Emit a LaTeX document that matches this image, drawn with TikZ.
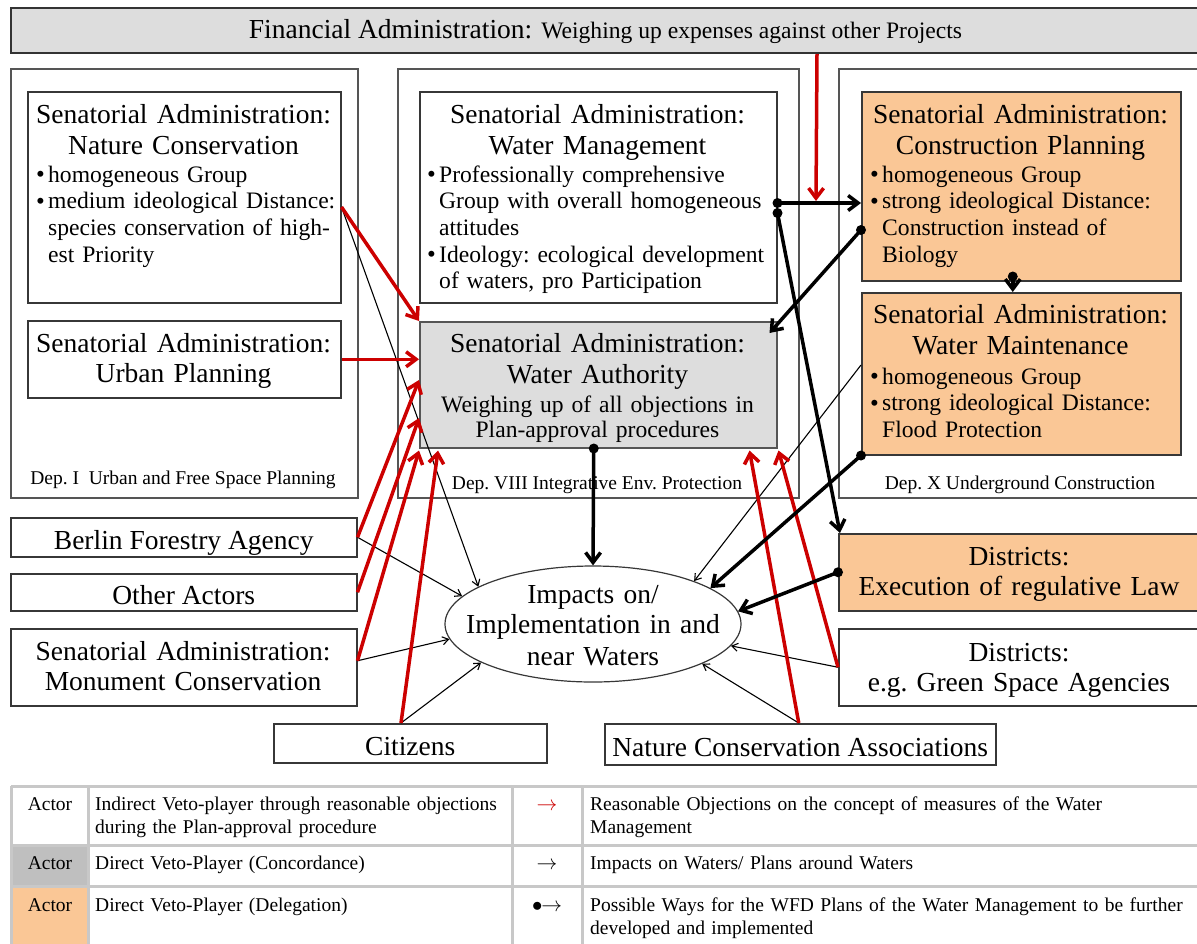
\documentclass[tikz,border=0pt]{standalone}
\usepackage{fontspec}
\setmainfont{Liberation Serif}
\usetikzlibrary{arrows.meta,shapes.geometric}

\definecolor{peach}{RGB}{250,199,150}
\definecolor{paleg}{RGB}{221,221,221}
\definecolor{legg}{RGB}{191,191,191}
\definecolor{legline}{RGB}{200,200,200}
\definecolor{objred}{RGB}{204,0,0}
\definecolor{edge}{RGB}{55,55,55}
\definecolor{depedge}{RGB}{85,85,85}

\frenchspacing
\newcommand{\bigf}{\fontsize{27.5}{31.5}\selectfont}
\newcommand{\boxf}{\fontsize{27.5}{30.5}\selectfont}
\newcommand{\midf}{\fontsize{23.6}{26.7}\selectfont}
\newcommand{\subf}{\fontsize{23.6}{25}\selectfont}
\newcommand{\smlf}{\fontsize{19.5}{23.5}\selectfont}
% bullet list: text indented by \leftskip, bullet hung into the indent
\newcommand{\bulletmark}{\raisebox{-0.5pt}{\fontsize{25}{25}\selectfont\textbullet}}
\newcommand{\bitem}[1]{\noindent\llap{\makebox[12pt][l]{\bulletmark}}#1\par}

\begin{document}
\begin{tikzpicture}[x=1pt,y=-1pt,
  box/.style={draw=edge, line width=1.5pt, inner sep=0pt, anchor=north west},
  depbox/.style={draw=depedge, line width=1.5pt, inner sep=0pt, anchor=north west},
  onel/.style={box, font=\bigf, text height=28pt, text depth=4pt},
  ttl/.style={anchor=base, inner sep=0pt, text width=340pt, align=center, font=\bigf},
  bxt/.style={ttl, font=\boxf},
  bul/.style={anchor=base west, inner sep=0pt, text width=345pt, align=left, font=\midf},
  deplab/.style={anchor=base, inner sep=0pt, font=\smlf},
  legtxt/.style={anchor=base west, inner sep=0pt, text width=600pt, align=left, font=\smlf},
  legmid/.style={anchor=base, inner sep=0pt, font=\smlf},
  objection/.style={draw=objred, line width=3.5pt, -{Straight Barb[length=10pt,width=15pt]}},
  impact/.style={draw=black, line width=1.1pt, -{Straight Barb[length=6pt,width=8pt]}},
  way/.style={draw=black, line width=3.5pt, -{Straight Barb[length=10pt,width=15pt]}},
  waydot/.style={fill=black}
]
\useasboundingbox (0,0) rectangle (1197,943);
\clip (0,0) rectangle (1197,943);

% ---------- financial administration bar ----------
\node[box, fill=paleg, draw=black!80, line width=2pt, minimum width=1190pt, minimum height=45pt] (fin) at (10,7) {};
\node[anchor=base, inner sep=0pt] (finT) at (605.5,38)
  {\bigf Financial Administration:\hspace{9pt}{\midf Weighing up expenses against other Projects}};

% ---------- departments ----------
\node[depbox, minimum width=347pt, minimum height=429pt] (dep1) at (10,68) {};
\node[depbox, minimum width=401pt, minimum height=429pt] (dep8) at (397,68) {};
\node[depbox, minimum width=362pt, minimum height=429pt] (dep10) at (838,68) {};
\node[deplab] (dep1T) at (183,484) {Dep.~I~~Urban and Free Space Planning};
\node[deplab] (dep8T) at (597,489) {Dep. VIII Integrative Env. Protection};
\node[deplab] (dep10T) at (1020,489) {Dep. X Underground Construction};

% ---------- Dep. I ----------
\node[box, minimum width=313pt, minimum height=211pt] (nat) at (27,91) {};
\node[ttl] (natT) at (183.5,123) {Senatorial Administration:\\Nature Conservation};
\node[bul] (natB) at (36,182) {\leftskip=12pt\relax
  \bitem{homogeneous Group}
  \bitem{medium ideological Distance:\\species conservation of high-\\est Priority}};

\node[box, minimum width=313pt, minimum height=77pt] (urb) at (27,320) {};
\node[bxt] (urbT) at (183.5,352) {Senatorial Administration:\\Urban Planning};

% ---------- Dep. VIII ----------
\node[box, minimum width=357pt, minimum height=211pt] (wm) at (419,91) {};
\node[ttl] (wmT) at (597.5,123) {Senatorial Administration:\\Water Management};
\node[bul] (wmB) at (427,182) {\leftskip=12pt\relax
  \bitem{Professionally comprehensive\\Group with overall homogeneous\\attitudes}
  \bitem{Ideology: ecological development\\of waters, pro Participation}};

\node[box, fill=paleg, draw=depedge, minimum width=357pt, minimum height=126pt] (wa) at (419,321) {};
\node[ttl] (waT) at (597.5,352) {Senatorial Administration:\\Water Authority};
\node[ttl, font=\subf] (waS) at (597.5,412) {Weighing up of all objections in\\Plan-approval procedures};

% ---------- Dep. X ----------
\node[box, fill=peach, minimum width=319pt, minimum height=189pt] (cp) at (861,91) {};
\node[ttl] (cpT) at (1020.5,123) {Senatorial Administration:\\Construction Planning};
\node[bul] (cpB) at (870,182) {\leftskip=12pt\relax
  \bitem{homogeneous Group}
  \bitem{strong ideological Distance:\\Construction instead of\\Biology}};

\node[box, fill=peach, minimum width=319pt, minimum height=162pt] (wmt) at (861,292) {};
\node[ttl] (wmtT) at (1020.5,323) {Senatorial Administration:\\Water Maintenance};
\node[bul] (wmtB) at (870,384) {\leftskip=12pt\relax
  \bitem{homogeneous Group}
  \bitem{strong ideological Distance:\\Flood Protection}};

% ---------- further actors ----------
\node[box, fill=peach, minimum width=362pt, minimum height=77pt] (dex) at (838,533) {};
\node[bxt] (dexT) at (1019,565) {Districts:\\Execution of regulative Law};
\node[box, minimum width=362pt, minimum height=77pt] (dgs) at (838,628) {};
\node[bxt] (dgsT) at (1019,661) {Districts:\\e.g. Green Space Agencies};
\node[onel, minimum width=346pt, minimum height=39pt] (bfa) at (10,517) {Berlin Forestry Agency};
\node[onel, minimum width=346pt, minimum height=37pt] (oth) at (10,573) {Other Actors};
\node[box, minimum width=346pt, minimum height=77pt] (mon) at (10,628) {};
\node[bxt] (monT) at (183,660) {Senatorial Administration:\\Monument Conservation};
\node[onel, minimum width=273pt, minimum height=39pt] (cit) at (273,723) {Citizens};
\node[onel, minimum width=391pt, minimum height=41pt] (nca) at (604,723) {Nature Conservation Associations};

% ---------- impacts ----------
\node[draw=edge, line width=1.2pt, ellipse, minimum width=296pt, minimum height=116pt, inner sep=0pt] (imp) at (593,624) {};
\node[ttl, text width=300pt] (impT) at (593,603) {\fontsize{27.5}{30.5}\selectfont Impacts on/\\Implementation in and\\near Waters};

% ---------- impacts on waters (thin) ----------
\draw[impact] ([yshift=-116pt]nat.north east) -- (imp.162.7);
\draw[impact] (bfa.east) -- (imp.168.8);
\draw[impact] ([yshift=6.5pt]mon.east) -- (imp.186);
\draw[impact] ([xshift=128pt]cit.north west) -- (imp.199.9);
\draw[impact] (dgs.west) -- (imp.351.5);
\draw[impact] ([xshift=-1.5pt]nca.north) -- (imp.340.6);
\draw[impact] ([yshift=-73pt]wmt.north west) -- (imp.23.8);

% ---------- reasonable objections (red) ----------
\coordinate (finEnd) at (816,201);
\draw[objection] ([xshift=211pt]fin.south) -- (finEnd);
\draw[objection] ([yshift=-116pt]nat.north east) -- (wa.north west);
\draw[objection] (urb.east) -- (wa.west |- urb.east);
\draw[objection] (bfa.east) -- ([yshift=-59pt]wa.north west);
\draw[objection] (oth.east) -- ([yshift=-97pt]wa.north west);
\draw[objection] ([yshift=6.5pt]mon.east) -- ([yshift=-2pt]wa.south west);
\draw[objection] ([xshift=128pt]cit.north west) -- ([xshift=19pt,yshift=-2pt]wa.south west);
\draw[objection] ([xshift=-1.5pt]nca.north) -- ([xshift=-28pt,yshift=-2pt]wa.south east);
\draw[objection] (dgs.west) -- ([xshift=1pt,yshift=-2pt]wa.south east);

% ---------- possible ways (dot to arrow) ----------
\draw[way] ([yshift=-112pt]wm.north east) -- ([yshift=-112pt]cp.north west);
\fill[waydot] ([yshift=-112pt]wm.north east) circle[radius=5pt];
\draw[way] ([yshift=-122pt]wm.north east) -- ([xshift=2pt]dex.north west);
\fill[waydot] ([yshift=-122pt]wm.north east) circle[radius=5pt];
\draw[way] ([yshift=-139pt]cp.north west) -- ([xshift=-8pt,yshift=-12pt]wa.north east);
\fill[waydot] ([yshift=-139pt]cp.north west) circle[radius=5pt];
\draw[way] ([xshift=-8.5pt,yshift=5pt]cp.south) -- ([xshift=-8.5pt]wmt.north);
\fill[waydot] ([xshift=-8.5pt,yshift=5pt]cp.south) circle[radius=5pt];
\draw[way] ([xshift=-4.5pt]wa.south) -- (imp.north);
\fill[waydot] ([xshift=-4.5pt]wa.south) circle[radius=5pt];
\draw[way] (wmt.south west) -- (imp.17.9);
\fill[waydot] (wmt.south west) circle[radius=5pt];
\draw[way] (dex.west) -- (imp.5.4);
\fill[waydot] (dex.west) circle[radius=5pt];

% ---------- legend ----------
\fill[legg] (11,845) rectangle (88,886);
\fill[peach] (11,886) rectangle (88,945);
\draw[legline, line width=3pt] (11,786) -- (1200,786) (11,845) -- (1200,845) (11,886) -- (1200,886);
\draw[legline, line width=3pt] (11,786) -- (11,945) (88,786) -- (88,945) (512,786) -- (512,945) (582,786) -- (582,945);

\node[legmid] (lgA1) at (50,810) {Actor};
\node[legtxt] (lgB1) at (95,810) {Indirect Veto-player through reasonable objections\\during the Plan-approval procedure};
\node[legmid] (lgC1) at (547,810) {\color{objred}$\rightarrow$};
\node[legtxt] (lgD1) at (590,810) {Reasonable Objections on the concept of measures of the Water\\Management};

\node[legmid] (lgA2) at (50,869) {Actor};
\node[legtxt] (lgB2) at (95,869) {Direct Veto-Player (Concordance)};
\node[legmid] (lgC2) at (547,869) {$\rightarrow$};
\node[legtxt] (lgD2) at (590,869) {Impacts on Waters/ Plans around Waters};

\node[legmid] (lgA3) at (50,911) {Actor};
\node[legtxt] (lgB3) at (95,911) {Direct Veto-Player (Delegation)};
\node[legmid] (lgC3) at (547,911) {$\bullet\!\!\rightarrow$};
\node[legtxt] (lgD3) at (590,911) {Possible Ways for the WFD Plans of the Water Management to be further\\developed and implemented};
\end{tikzpicture}
\end{document}
